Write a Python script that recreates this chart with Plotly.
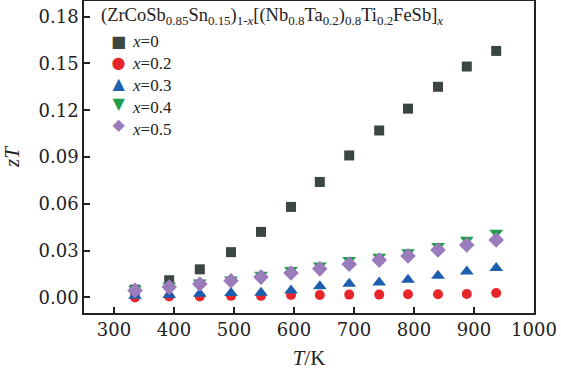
import plotly.graph_objects as go

T_K = [335, 392, 443, 495, 545, 595, 643, 692, 742, 790, 840, 888, 937]
zt_x00 = [0.005, 0.011, 0.018, 0.029, 0.042, 0.058, 0.074, 0.091, 0.107, 0.121, 0.135, 0.148, 0.158]
zt_x02 = [0.000, 0.0006, 0.0006, 0.001, 0.001, 0.0015, 0.0015, 0.0018, 0.0018, 0.002, 0.002, 0.0022, 0.0028]
zt_x03 = [0.001, 0.0015, 0.0024, 0.0028, 0.003, 0.0045, 0.0072, 0.0087, 0.0096, 0.0113, 0.0139, 0.0166, 0.0188]
zt_x04 = [0.0055, 0.0075, 0.0095, 0.0115, 0.0145, 0.0175, 0.0205, 0.0240, 0.0260, 0.0290, 0.0330, 0.0370, 0.0415]
zt_x05 = [0.0045, 0.0066, 0.0086, 0.0107, 0.013, 0.0156, 0.0183, 0.0213, 0.0239, 0.0266, 0.0304, 0.0336, 0.0368]

series_names = ["x=0", "x=0.2", "x=0.3", "x=0.4", "x=0.5"]
x_ticks = [300, 400, 500, 600, 700, 800, 900, 1000]
y_ticks = [0.00, 0.03, 0.06, 0.09, 0.12, 0.15, 0.18]

colors = ["#3b4642", "#e8262a", "#1c5fae", "#1f9c4c", "#9a7cbc"]
symbols = ["square", "circle", "triangle-up", "triangle-down", "diamond"]
sizes = [10, 10, 12, 12, 12]
glyphs = ["■", "●", "▲", "▼", "◆"]
data = [zt_x00, zt_x02, zt_x03, zt_x04, zt_x05]

SERIF = "Liberation Serif"
TICKSERIF = "DejaVu Serif"
INK = "#222222"

fig = go.Figure()
for name, ys, c, s, sz in zip(series_names, data, colors, symbols, sizes):
    fig.add_trace(go.Scatter(x=T_K, y=ys, mode="markers", name=name,
                             marker=dict(symbol=s, color=c, size=sz, line=dict(width=0)),
                             showlegend=False))

# manual legend block
L, R, TOP, BOT = 84, 534, 1, 313
W, H = R - L, BOT - TOP
def px(x): return (x - L) / W
def py(y): return (BOT - y) / H

LEG_FONT = 16
anns = []
anns.append(dict(xref="paper", yref="paper", x=px(99), y=py(16), xanchor="left", yanchor="middle",
                 text="(ZrCoSb<sub>0.85</sub>Sn<sub>0.15</sub>)<sub>1-<i>x</i></sub>[(Nb<sub>0.8</sub>Ta<sub>0.2</sub>)<sub>0.8</sub>Ti<sub>0.2</sub>FeSb]<sub><i>x</i></sub>",
                 showarrow=False, font=dict(family=SERIF, size=18.5, color=INK)))
glyph_text = "<br>".join(f'<span style="color:{c}">{g}</span>' for c, g in zip(colors, glyphs))
label_text = "<br>".join("<i>x</i>" + n[1:] for n in series_names)
anns.append(dict(xref="paper", yref="paper", x=px(118), y=py(30), xanchor="center", yanchor="top",
                 align="center", text=glyph_text, showarrow=False,
                 font=dict(family="DejaVu Sans", size=LEG_FONT, color=INK)))
anns.append(dict(xref="paper", yref="paper", x=px(130), y=py(30), xanchor="left", yanchor="top",
                 align="left", text=label_text, showarrow=False,
                 font=dict(family=SERIF, size=LEG_FONT + 1, color=INK)))

axis_common = dict(ticks="inside", ticklen=6, tickwidth=1.5, tickcolor=INK, showline=True,
                   linecolor=INK, linewidth=1.5, mirror=True, showgrid=False, zeroline=False,
                   automargin=False, tickfont=dict(family=TICKSERIF, size=18, color=INK))

fig.update_layout(
    width=561, height=370,
    margin=dict(l=L, r=561 - R, t=TOP, b=370 - BOT),
    paper_bgcolor="white", plot_bgcolor="white",
    font=dict(family=SERIF, size=19, color=INK),
    annotations=anns,
    xaxis=dict(range=[250, 1000], tickvals=x_ticks,
               title=dict(text="<i>T</i>/K", font=dict(family=SERIF, size=21, color=INK), standoff=12),
               **axis_common),
    yaxis=dict(range=[-0.01, 0.19], tickvals=y_ticks, tickformat=".2f",
               title=dict(text="<i>zT</i>", font=dict(family=SERIF, size=21, color=INK), standoff=16),
               **axis_common),
)

fig.write_html("out.html", config={"displayModeBar": False},
               post_script="document.body.style.margin='0';")
